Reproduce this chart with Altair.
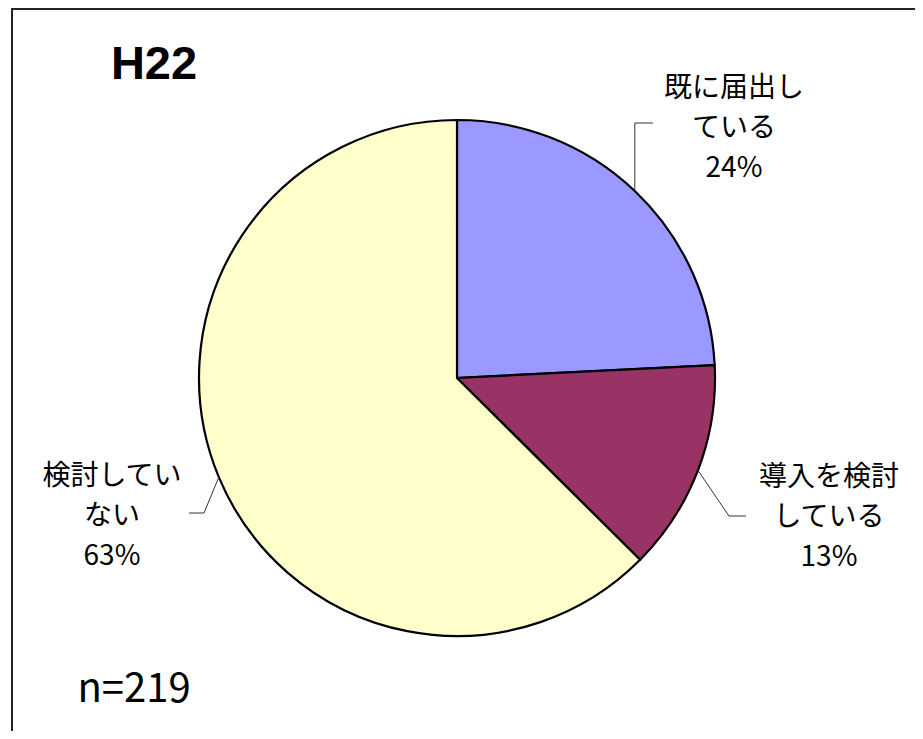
import numpy as np
import pandas as pd
import altair as alt

# ---- data ----
categories = ["既に届出している", "導入を検討している", "検討していない"]
counts = [53, 29, 137]          # n = 219
pct_labels = ["24%", "13%", "63%"]
label_lines = ["既に届出し\nている", "導入を検討\nしている", "検討してい\nない"]
colors = ["#9999FF", "#993366", "#FFFFCC"]
title_text = "H22"
n_text = "n=219"

# ---- layout (pixels inside the chart) ----
W, H = 907, 723
CX, CY, R = 449, 370, 258
label_pos = [(726, 81), (821, 470), (104, 469)]
elbows = [[None, (None, 115), (645, 115)],
          [None, (721, 508), (738, 508)],
          [None, (196, 505), (181, 505)]]

vals = np.array(counts, dtype=float)
frac = vals / vals.sum()
cum = np.cumsum(frac) - frac / 2
mid_ang = cum * 2 * np.pi
starts = [(CX + R * np.sin(a), CY - R * np.cos(a)) for a in mid_ang]

pie_df = pd.DataFrame({"cat": categories, "count": counts, "idx": list(range(len(categories)))})

rows = []
for i, (st, el) in enumerate(zip(starts, elbows)):
    pts = [st]
    for p in el[1:]:
        px = st[0] if p[0] is None else p[0]
        pts.append((px, p[1]))
    for k, (px, py) in enumerate(pts):
        rows.append({"x": px, "y": py, "grp": i, "ord": k})
line_df = pd.DataFrame(rows)

lab_df = pd.DataFrame({
    "txt": [l + "\n" + p for l, p in zip(label_lines, pct_labels)],
    "x": [p[0] for p in label_pos],
    "y": [p[1] for p in label_pos],
})

pie = alt.Chart(pie_df).mark_arc(radius=R, stroke="black", strokeWidth=2.2).encode(
    theta=alt.Theta("count:Q", stack=True),
    order=alt.Order("idx:Q", sort="ascending"),
    color=alt.Color("cat:N", scale=alt.Scale(domain=categories, range=colors), legend=None),
    x=alt.value(CX), y=alt.value(CY),
)

leaders = alt.Chart(line_df).mark_line(color="#333333", strokeWidth=1).encode(
    x=alt.X("x:Q", scale=None, axis=None),
    y=alt.Y("y:Q", scale=None, axis=None),
    detail="grp:N",
    order="ord:Q",
)

labels = alt.Chart(lab_df).mark_text(
    font="Noto Sans CJK JP", fontSize=28, align="center", baseline="middle",
    lineBreak="\n", lineHeight=40, color="black",
).encode(
    x=alt.X("x:Q", scale=None, axis=None),
    y=alt.Y("y:Q", scale=None, axis=None),
    text="txt:N",
)

title = alt.Chart(pd.DataFrame({"t": [title_text]})).mark_text(
    font="Liberation Sans", fontSize=47, fontWeight="bold", align="center", baseline="middle", color="black"
).encode(x=alt.value(146), y=alt.value(57), text="t:N")

ntxt = alt.Chart(pd.DataFrame({"t": [n_text]})).mark_text(
    font="Noto Sans CJK JP", fontSize=40, align="center", baseline="middle", color="black"
).encode(x=alt.value(126), y=alt.value(682), text="t:N")

border_top = alt.Chart(pd.DataFrame({"a": [0]})).mark_rule(color="#222222", strokeWidth=2).encode(
    x=alt.value(4), x2=alt.value(W), y=alt.value(1), y2=alt.value(1))
border_left = alt.Chart(pd.DataFrame({"a": [0]})).mark_rule(color="#222222", strokeWidth=2).encode(
    x=alt.value(4), x2=alt.value(4), y=alt.value(0), y2=alt.value(H))

chart = alt.layer(border_top, border_left, pie, leaders, labels, title, ntxt).properties(
    width=W, height=H, padding=0, autosize="none"
).configure_view(stroke=None)

chart.save("out.html", embed_options={"renderer": "svg", "actions": False})
